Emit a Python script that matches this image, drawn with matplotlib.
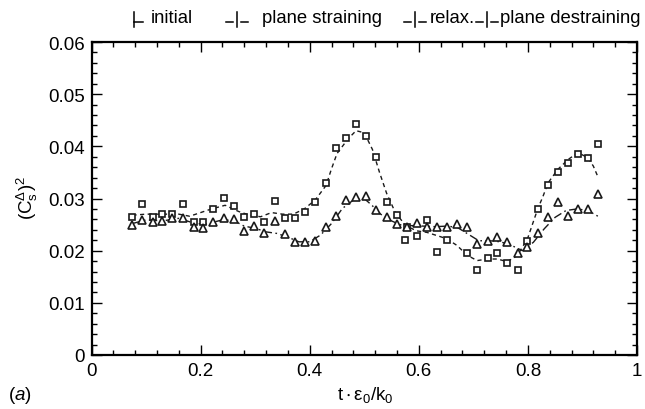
import numpy as np
import matplotlib
matplotlib.use("Agg")
import matplotlib.pyplot as plt
from matplotlib.lines import Line2D

plt.rcParams['font.family'] = ['Liberation Sans', 'DejaVu Sans']
plt.rcParams['mathtext.fontset'] = 'custom'
plt.rcParams['mathtext.rm'] = 'Liberation Sans'
plt.rcParams['mathtext.it'] = 'Liberation Sans:italic'
plt.rcParams['mathtext.bf'] = 'Liberation Sans:bold'

# square markers (dashed curve)
sq_t = [0.075, 0.093, 0.112, 0.130, 0.148, 0.168, 0.187, 0.205, 0.223, 0.243,
        0.261, 0.280, 0.298, 0.316, 0.336, 0.354, 0.373, 0.392, 0.410, 0.429,
        0.448, 0.467, 0.485, 0.503, 0.522, 0.541, 0.560, 0.578, 0.575, 0.596,
        0.615, 0.633, 0.651, 0.689, 0.707, 0.726, 0.744, 0.762, 0.781, 0.799,
        0.819, 0.837, 0.855, 0.874, 0.892, 0.910, 0.929]
sq_v = [0.0264, 0.0289, 0.0264, 0.0271, 0.0270, 0.0290, 0.0254, 0.0254, 0.0280, 0.0301,
        0.0285, 0.0264, 0.0270, 0.0254, 0.0296, 0.0262, 0.0262, 0.0275, 0.0294, 0.0329,
        0.0397, 0.0416, 0.0443, 0.0419, 0.0380, 0.0294, 0.0268, 0.0245, 0.0221, 0.0228,
        0.0259, 0.0198, 0.0221, 0.0196, 0.0162, 0.0186, 0.0196, 0.0177, 0.0163, 0.0219,
        0.0280, 0.0325, 0.0350, 0.0369, 0.0386, 0.0378, 0.0405]

# triangle markers (dash-dot curve)
tri_t = [0.075, 0.093, 0.112, 0.130, 0.148, 0.168, 0.187, 0.205, 0.223, 0.243,
         0.261, 0.280, 0.298, 0.316, 0.336, 0.354, 0.373, 0.392, 0.410, 0.429,
         0.448, 0.467, 0.485, 0.503, 0.522, 0.541, 0.560, 0.578, 0.596, 0.615,
         0.633, 0.651, 0.670, 0.689, 0.707, 0.726, 0.744, 0.762, 0.781, 0.799,
         0.819, 0.837, 0.855, 0.874, 0.892, 0.910, 0.929]
tri_v = [0.0249, 0.0259, 0.0254, 0.0256, 0.0262, 0.0262, 0.0246, 0.0243, 0.0254, 0.0262,
         0.0261, 0.0237, 0.0247, 0.0234, 0.0256, 0.0231, 0.0217, 0.0217, 0.0219, 0.0246,
         0.0266, 0.0298, 0.0302, 0.0305, 0.0277, 0.0264, 0.0251, 0.0245, 0.0253, 0.0245,
         0.0245, 0.0245, 0.0251, 0.0246, 0.0213, 0.0219, 0.0226, 0.0216, 0.0196, 0.0207,
         0.0234, 0.0264, 0.0294, 0.0266, 0.0280, 0.0280, 0.0308]

# fitted curves as drawn
sq_line_t = [0.075, 0.10, 0.13, 0.16, 0.18, 0.22, 0.245, 0.27, 0.29, 0.31, 0.33, 0.35,
             0.37, 0.39, 0.41, 0.43, 0.44, 0.45, 0.47, 0.485, 0.50, 0.515, 0.528, 0.541,
             0.557, 0.576, 0.596, 0.615, 0.633, 0.651, 0.67, 0.689, 0.707, 0.726, 0.744,
             0.762, 0.78, 0.799, 0.818, 0.828, 0.837, 0.855, 0.874, 0.892, 0.910, 0.92, 0.929]
sq_line_v = [0.0268, 0.0270, 0.0270, 0.0270, 0.0266, 0.0280, 0.0287, 0.0275, 0.0268, 0.0265,
             0.0273, 0.0270, 0.0270, 0.0280, 0.0297, 0.0325, 0.0357, 0.0386, 0.0414, 0.0430,
             0.0426, 0.0394, 0.0350, 0.0310, 0.0273, 0.0248, 0.0238, 0.0235, 0.0229, 0.0223,
             0.0210, 0.0191, 0.0181, 0.0184, 0.0184, 0.0179, 0.0190, 0.0222, 0.0280, 0.0305,
             0.0330, 0.0356, 0.0375, 0.0388, 0.0378, 0.0362, 0.0340]

tri_line_t = [0.075, 0.10, 0.13, 0.16, 0.19, 0.21, 0.24, 0.26, 0.28, 0.30, 0.32, 0.34,
              0.36, 0.38, 0.40, 0.42, 0.44, 0.46, 0.48, 0.50, 0.515, 0.53, 0.55, 0.57,
              0.59, 0.61, 0.63, 0.65, 0.67, 0.69, 0.71, 0.73, 0.75, 0.77, 0.79, 0.81,
              0.83, 0.85, 0.87, 0.89, 0.91, 0.93]
tri_line_v = [0.0252, 0.0259, 0.0257, 0.0262, 0.0252, 0.0251, 0.0259, 0.0258, 0.0247, 0.0243,
              0.0236, 0.0233, 0.0226, 0.0217, 0.0217, 0.0230, 0.0252, 0.0281, 0.0297, 0.0300,
              0.0286, 0.0270, 0.0257, 0.0248, 0.0248, 0.0247, 0.0246, 0.0247, 0.0245, 0.0232,
              0.0219, 0.0219, 0.0217, 0.0210, 0.0200, 0.0216, 0.0242, 0.0264, 0.0277, 0.0280,
              0.0277, 0.0265]

x_ticks = [0, 0.2, 0.4, 0.6, 0.8, 1.0]
x_ticklabels = ['0', '0.2', '0.4', '0.6', '0.8', '1']
y_ticks = [0, 0.01, 0.02, 0.03, 0.04, 0.05, 0.06]
y_ticklabels = ['0', '0.01', '0.02', '0.03', '0.04', '0.05', '0.06']

phase_names = ['initial', 'plane straining', 'relax.', 'plane destraining']

W, H = 645, 410
fig = plt.figure(figsize=(W / 100, H / 100), dpi=100)
ax = fig.add_axes([91.5 / W, 1 - 356 / H, (637 - 91.5) / W, (356 - 43) / H])

ink = '#1a1a1a'
ax.plot(sq_line_t, sq_line_v, color=ink, lw=1.0, ls=(0, (3, 2.5)))
ax.plot(tri_line_t, tri_line_v, color=ink, lw=1.0, ls=(0, (6, 2.5, 1.2, 2.5)))
ax.plot(sq_t, sq_v, ls='none', marker='s', ms=5, mfc='white', mec=ink, mew=1.2)
ax.plot(tri_t, tri_v, ls='none', marker='^', ms=5.5, mfc='white', mec=ink, mew=1.2)

ax.set_xlim(0, 1)
ax.set_ylim(0, 0.06)
ax.set_xticks(x_ticks)
ax.set_xticklabels(x_ticklabels)
ax.set_yticks(y_ticks)
ax.set_yticklabels(y_ticklabels)
ax.set_xticks(np.linspace(0, 1, 26), minor=True)
ax.set_yticks(np.linspace(0, 0.06, 31), minor=True)
ax.tick_params(which='both', direction='in', top=True, right=True, width=1.0,
               labelsize=13.5, colors='black')
ax.tick_params(which='major', length=7, pad=5)
ax.tick_params(which='minor', length=3.5)
for s in ax.spines.values():
    s.set_linewidth(1.6)

fig.text(365 / W, 1 - 395 / H, r'$\mathregular{t\cdot\epsilon_0/k_0}$',
         ha='center', va='center', fontsize=13.5)
fig.text(27 / W, 1 - 198 / H, r'$\mathregular{(C_s^{\Delta})^2}$',
         ha='center', va='center', rotation=90, fontsize=13.5)
fig.text(8 / W, 1 - 396 / H, r'$\mathregular{(}\mathit{a}\mathregular{)}$',
         ha='left', va='center', fontsize=13.5)

# phase labels above the plot
base = 1 - 23 / H
label_x = [151, 262, 430, 500]
for name, lx in zip(phase_names, label_x):
    fig.text(lx / W, base, name, ha='left', va='baseline', fontsize=13.3)

def seg(x0, x1, y0, y1):
    fig.add_artist(Line2D([x0 / W, x1 / W], [1 - y0 / H, 1 - y1 / H],
                          transform=fig.transFigure, color='black', lw=1.1))

# boundary marks: vertical bar with dashes on either side
marks = [(134, False), (237, True), (415, True), (487, True)]
for vx, left in marks:
    seg(vx, vx, 13, 28)
    if left:
        seg(vx - 11, vx - 4, 23, 23)
        seg(vx + 4, vx + 11, 23, 23)
    else:
        seg(vx, vx + 9, 23, 23)

fig.savefig('out.png', dpi=100)
